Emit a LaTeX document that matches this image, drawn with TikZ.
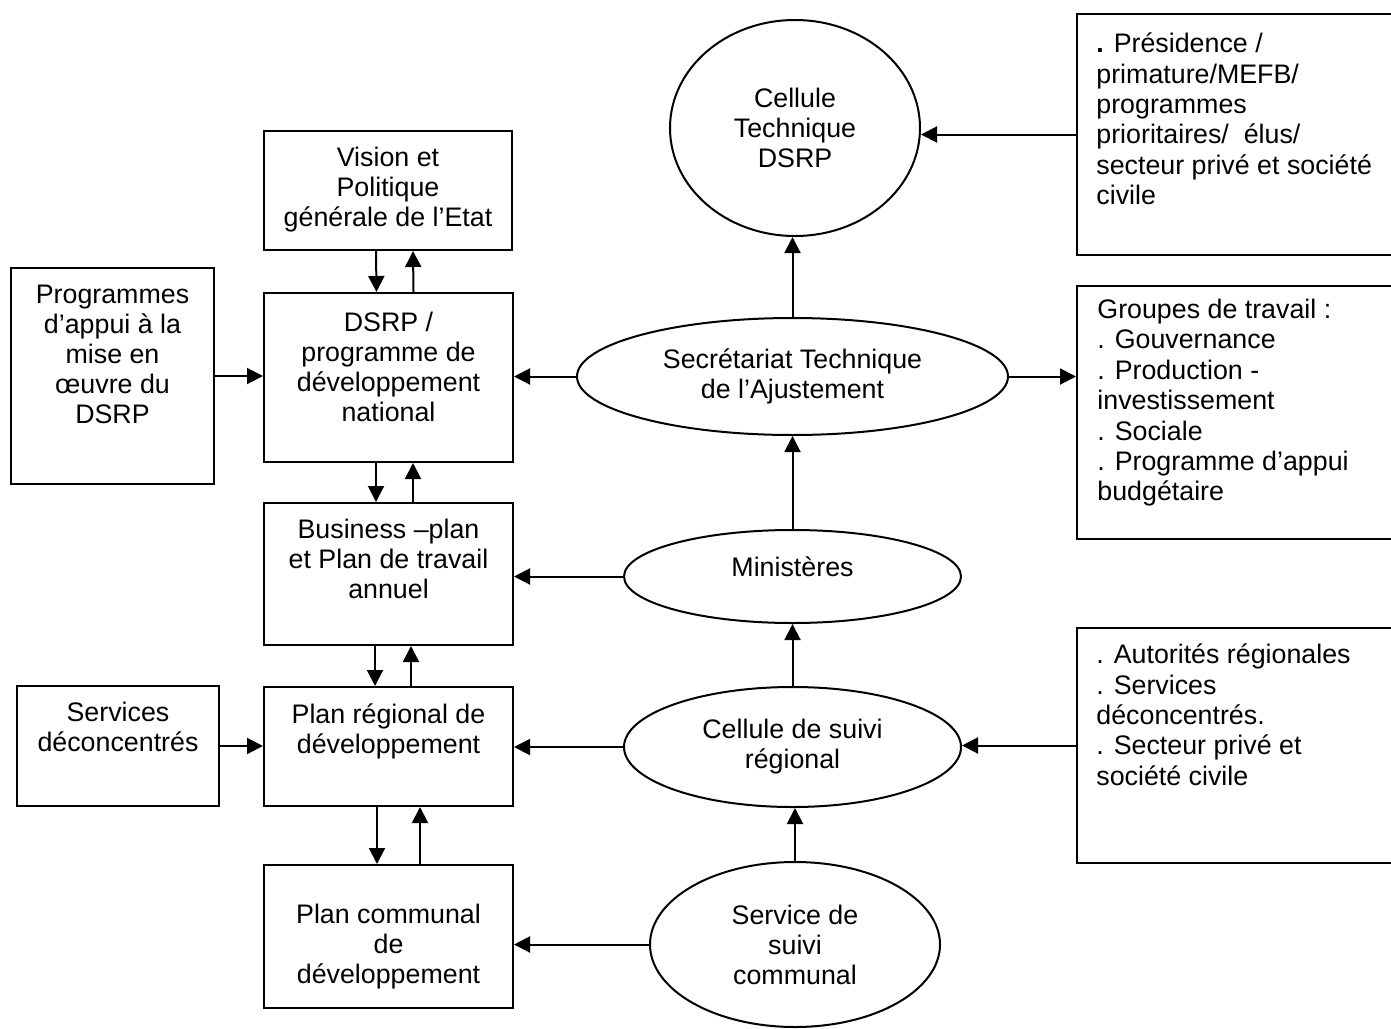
\documentclass[tikz,border=0pt]{standalone}
\usepackage{fontspec}
\setmainfont{Liberation Sans}
\usetikzlibrary{shapes.geometric,arrows.meta}

\begin{document}
\begin{tikzpicture}[x=0.5pt,y=-0.5pt,
    box/.style={draw, line width=1pt, inner sep=0pt},
    oval/.style={draw, ellipse, line width=1pt, inner sep=0pt, align=center, font=\fontsize{13.4}{15}\selectfont},
    txt/.style={anchor=north, align=center, inner sep=0pt, font=\fontsize{13.4}{15}\selectfont},
    ltxt/.style={anchor=north west, align=left, inner sep=0pt, font=\fontsize{13.4}{15.2}\selectfont},
    arr/.style={-{Triangle[length=8pt,width=8pt]}, line width=1pt}]
    \useasboundingbox (0,0) rectangle (1391,1028);

    % left column
    \node[box, minimum width=124pt, minimum height=59.5pt] (vision) at (388,190.5) {};
    \node[txt, yshift=-8.3pt] (visiontxt) at (vision.north) {Vision et\\Politique\\générale de l’Etat};

    \node[box, minimum width=124.5pt, minimum height=84.5pt] (dsrp) at (388.5,377.5) {};
    \node[txt, yshift=-9.8pt] (dsrptxt) at (dsrp.north) {DSRP /\\programme de\\développement\\national};

    \node[box, minimum width=101.5pt, minimum height=108pt] (prog) at (112.5,376) {};
    \node[txt, yshift=-8.8pt] (progtxt) at (prog.north) {Programmes\\d’appui à la\\mise en\\œuvre du\\DSRP};

    \node[box, minimum width=124.5pt, minimum height=71pt] (business) at (388.5,574) {};
    \node[txt, yshift=-8.3pt] (businesstxt) at (business.north) {Business –plan\\et Plan de travail\\annuel};

    \node[box, minimum width=124.5pt, minimum height=59.5pt] (regional) at (388.5,746.5) {};
    \node[txt, yshift=-8.8pt] (regionaltxt) at (regional.north) {Plan régional de\\développement};

    \node[box, minimum width=101pt, minimum height=60pt] (services) at (118,746) {};
    \node[txt, yshift=-8.3pt] (servicestxt) at (services.north) {Services\\déconcentrés};

    \node[box, minimum width=124.5pt, minimum height=71.5pt] (communal) at (388.5,936.5) {};
    \node[txt, yshift=-20pt] (communaltxt) at (communal.north) {Plan communal\\de\\développement};

    % ellipses
    \node[oval, minimum width=125pt, minimum height=108pt] (tech) at (795,128) {Cellule\\Technique\\DSRP};
    \node[oval, minimum width=215.5pt, minimum height=58.5pt] (secr) at (792.5,376.5) {Secrétariat Technique\\de l’Ajustement};
    \node[oval, minimum width=168.5pt, minimum height=46.5pt, text depth=9.5pt] (mini) at (792.5,576.5) {Ministères};
    \node[oval, minimum width=168.5pt, minimum height=60pt] (suivi) at (792.5,747) {Cellule de suivi\\régional};
    \node[oval, minimum width=145pt, minimum height=82.5pt] (comm) at (795,944.5) {Service de\\suivi\\communal};

    % right column
    \node[box, minimum width=165pt, minimum height=120.5pt] (pres) at (1242,134.5) {};
    \node[ltxt, xshift=10pt, yshift=-9.8pt] (prestxt) at (pres.north west) {\textbf{.} Présidence /\\primature/MEFB/\\programmes\\prioritaires/\ \ élus/\\secteur privé et société\\civile};

    \node[box, minimum width=165pt, minimum height=126.5pt] (groupes) at (1242,412.5) {};
    \node[ltxt, xshift=10.5pt, yshift=-6.8pt] (groupestxt) at (groupes.north west) {Groupes de travail :\\. Gouvernance\\. Production -\\investissement\\. Sociale\\. Programme d’appui\\budgétaire};

    \node[box, minimum width=165pt, minimum height=117.5pt] (autorites) at (1242,745.5) {};
    \node[ltxt, xshift=10pt, yshift=-8.3pt] (autoritestxt) at (autorites.north west) {. Autorités régionales\\. Services\\déconcentrés.\\. Secteur privé et\\société civile};

    % vertical links, left column
    \draw[arr] ([xshift=-6pt]vision.south) -- ([xshift=-6pt]dsrp.north);
    \draw[arr] ([xshift=12.5pt]dsrp.north) -- ([xshift=12.5pt]vision.south);
    \draw[arr] ([xshift=-6.25pt]dsrp.south) -- ([xshift=-6.25pt]business.north);
    \draw[arr] ([xshift=12.25pt]business.north) -- ([xshift=12.25pt]dsrp.south);
    \draw[arr] ([xshift=-6.75pt]business.south) -- ([xshift=-6.75pt]regional.north);
    \draw[arr] ([xshift=11.25pt]regional.north) -- ([xshift=11.25pt]business.south);
    \draw[arr] ([xshift=-5.75pt]regional.south) -- ([xshift=-5.75pt]communal.north);
    \draw[arr] ([xshift=15.75pt]communal.north) -- ([xshift=15.75pt]regional.south);

    % horizontal links
    \draw[arr] (prog.east) -- (prog.east -| dsrp.west);
    \draw[arr] (services.east) -- (services.east -| regional.west);
    \draw[arr] (secr.west) -- (secr.west -| dsrp.east);
    \draw[arr] (mini.west) -- (mini.west -| business.east);
    \draw[arr] (suivi.west) -- (suivi.west -| regional.east);
    \draw[arr] (comm.west) -- (comm.west -| communal.east);

    % vertical links, middle column
    \draw[arr] (secr.north) -- (secr.north |- tech.south);
    \draw[arr] (mini.north) -- (mini.north |- secr.south);
    \draw[arr] (suivi.north) -- (suivi.north |- mini.south);
    \draw[arr] (comm.north) -- (comm.north |- suivi.south);

    % right column links
    \draw[arr] (pres.west) -- (pres.west -| tech.east);
    \draw[arr] (secr.east) -- (secr.east -| groupes.west);
    \draw[arr] (autorites.west) -- (autorites.west -| suivi.east);
\end{tikzpicture}
\end{document}
